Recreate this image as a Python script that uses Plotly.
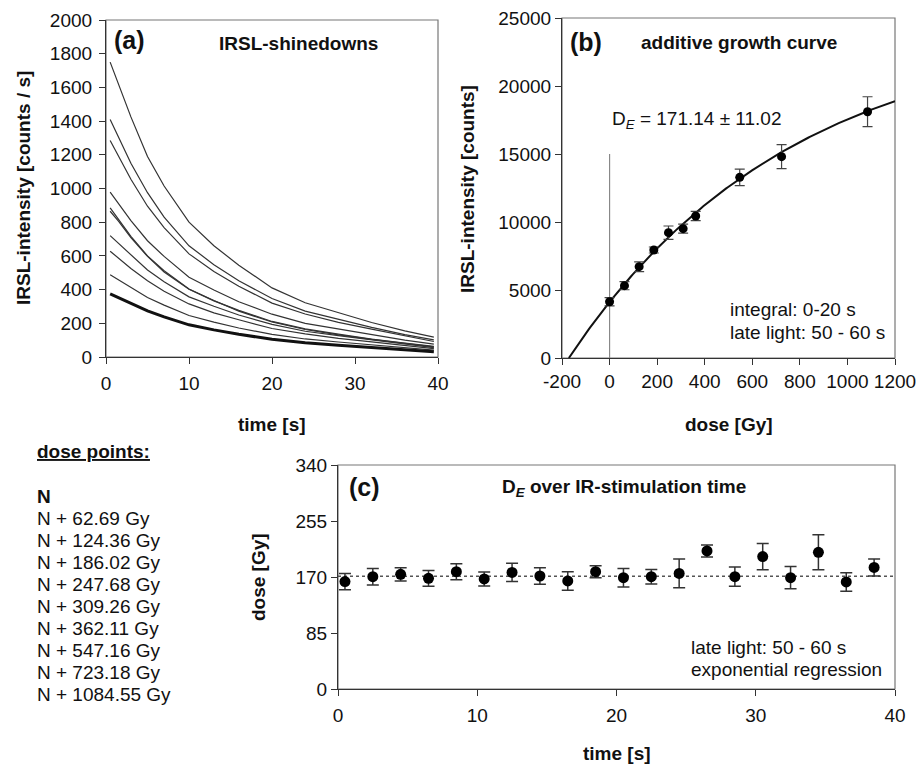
import numpy as np
import plotly.graph_objects as go

W, H = 919, 765
FONT = "Liberation Sans, Arial, sans-serif"

# ---------------- data: panel (a) IRSL shinedown curves ----------------
time_a = [0.5, 1.5, 3, 5, 7, 10, 13, 16, 20, 24, 28, 32, 36, 39.5]
curve_1 = [1750, 1615, 1425, 1190, 1015, 800, 660, 545, 410, 322, 262, 205, 155, 118]
curve_2 = [1410, 1305, 1150, 975, 830, 660, 548, 452, 347, 272, 224, 176, 133, 102]
curve_3 = [1285, 1195, 1055, 895, 768, 612, 508, 420, 320, 255, 206, 165, 126, 92]
curve_4 = [978, 912, 810, 690, 597, 473, 398, 328, 254, 200, 166, 131, 100, 76]
curve_5 = [885, 818, 716, 600, 512, 404, 335, 272, 208, 163, 131, 105, 80, 60]
curve_6 = [865, 806, 708, 597, 505, 402, 333, 277, 211, 167, 136, 106, 83, 63]
curve_7 = [720, 674, 603, 516, 447, 357, 301, 249, 194, 153, 127, 101, 78, 56]
curve_8 = [628, 588, 525, 453, 390, 315, 262, 221, 169, 137, 111, 90, 68, 50]
curve_9 = [488, 457, 412, 353, 308, 246, 207, 172, 134, 107, 89, 71, 55, 41]
curve_N = [375, 352, 317, 274, 238, 191, 161, 135, 105, 84, 69, 56, 43, 31]
thin_curves = [curve_1, curve_2, curve_3, curve_4, curve_5, curve_6, curve_7, curve_8, curve_9]

# ---------------- data: panel (b) additive growth curve ----------------
dose_b = [0, 62.69, 124.36, 186.02, 247.68, 309.26, 362.11, 547.16, 723.18, 1084.55]
signal_b = [4140, 5320, 6715, 7940, 9215, 9510, 10440, 13285, 14805, 18110]
signal_err_b = [300, 300, 360, 220, 490, 330, 340, 610, 880, 1100]
fit_a = 24500      # saturation amplitude of exponential fit
fit_b = 930        # characteristic dose of exponential fit
DE = 171.14
DE_err = 11.02
vline_top = 15000

# ---------------- data: panel (c) DE over stimulation time ----------------
time_c = [0.5, 2.5, 4.5, 6.5, 8.5, 10.5, 12.5, 14.5, 16.5, 18.5,
          20.5, 22.5, 24.5, 26.5, 28.5, 30.5, 32.5, 34.5, 36.5, 38.5]
de_c = [163, 170.5, 174, 168, 178, 167, 177, 171.5, 164, 178,
        169, 170.5, 175.5, 209.5, 170.5, 201, 169, 207.5, 162.5, 184.5]
de_err_c = [12.5, 12.5, 10, 12, 12, 10.5, 14, 12.5, 14, 9,
            14, 11, 22, 9, 14.5, 20, 17, 26.5, 14, 13]

ticks_c_y = [0, 85, 170, 255, 340]
ticks_b_x = [-200, 0, 200, 400, 600, 800, 1000, 1200]
ticks_b_x_text = ["-200", "0", "200", "400", "600", "800", "1000", "1200"]
ticks_b_y = [0, 5000, 10000, 15000, 20000, 25000]
ticks_b_y_text = ["0", "5000", "10000", "15000", "20000", "25000"]

dose_points = ["62.69", "124.36", "186.02", "247.68", "309.26",
               "362.11", "547.16", "723.18", "1084.55"]


def PX(x):
    return x / W


def PY(y):
    return 1 - y / H


fig = go.Figure()

# panel (a)
for c in thin_curves:
    fig.add_trace(go.Scatter(x=time_a, y=c, mode="lines", xaxis="x", yaxis="y",
                             line=dict(color="#333333", width=1.2), showlegend=False))
fig.add_trace(go.Scatter(x=time_a, y=curve_N, mode="lines", xaxis="x", yaxis="y",
                         line=dict(color="#111111", width=3), showlegend=False))

# panel (b)
fx = np.linspace(-DE, 1200, 200)
fy = fit_a * (1 - np.exp(-(fx + DE) / fit_b))
fig.add_trace(go.Scatter(x=[0, 0], y=[0, vline_top], mode="lines", xaxis="x2", yaxis="y2",
                         line=dict(color="#888888", width=1.2), showlegend=False))
fig.add_trace(go.Scatter(x=fx, y=fy, mode="lines", xaxis="x2", yaxis="y2",
                         line=dict(color="#111111", width=2), showlegend=False))
fig.add_trace(go.Scatter(x=dose_b, y=signal_b, mode="markers", xaxis="x2", yaxis="y2",
                         marker=dict(color="#000000", size=9),
                         error_y=dict(type="data", array=signal_err_b, color="#444444",
                                      thickness=1.2, width=5),
                         showlegend=False))

# panel (c)
fig.add_trace(go.Scatter(x=[0, 40], y=[DE, DE], mode="lines", xaxis="x3", yaxis="y3",
                         line=dict(color="#555555", width=1.5, dash="dot"), showlegend=False))
fig.add_trace(go.Scatter(x=time_c, y=de_c, mode="markers", xaxis="x3", yaxis="y3",
                         marker=dict(color="#000000", size=11),
                         error_y=dict(type="data", array=de_err_c, color="#333333",
                                      thickness=1.5, width=6),
                         showlegend=False))

axis_common = dict(showgrid=False, zeroline=False, showline=True, linecolor="#333333",
                   linewidth=1.2, ticks="outside", ticklen=6, tickcolor="#333333",
                   automargin=False,
                   tickfont=dict(family=FONT, size=19, color="#111111"))

dom_a_x = [PX(106), PX(438)]
dom_a_y = [PY(357), PY(20)]
dom_b_x = [PX(562), PX(895)]
dom_b_y = [PY(358), PY(18)]
dom_c_x = [PX(338), PX(895)]
dom_c_y = [PY(689), PY(465)]

fig.update_layout(
    width=W, height=H, autosize=False,
    margin=dict(l=0, r=0, t=0, b=0, pad=0, autoexpand=False),
    paper_bgcolor="white", plot_bgcolor="white",
    font=dict(family=FONT, size=19, color="#111111"),
    xaxis=dict(domain=dom_a_x, anchor="y", range=[0, 40], dtick=10,
               ticklabelstandoff=3, **axis_common),
    yaxis=dict(domain=dom_a_y, anchor="x", range=[0, 2000], dtick=200,
               ticklabelstandoff=3, **axis_common),
    xaxis2=dict(domain=dom_b_x, anchor="y2", range=[-200, 1200], tickvals=ticks_b_x,
                ticktext=ticks_b_x_text, **axis_common),
    yaxis2=dict(domain=dom_b_y, anchor="x2", range=[0, 25000], tickvals=ticks_b_y,
                ticktext=ticks_b_y_text, **axis_common),
    xaxis3=dict(domain=dom_c_x, anchor="y3", range=[0, 40], dtick=10,
                ticklabelstandoff=3, **axis_common),
    yaxis3=dict(domain=dom_c_y, anchor="x3", range=[0, 340], tickvals=ticks_c_y, **axis_common),
)

# boxes around panels
for xr, yr in [("x", "y"), ("x2", "y2"), ("x3", "y3")]:
    fig.add_shape(type="rect", xref=xr + " domain", yref=yr + " domain",
                  x0=0, x1=1, y0=0, y1=1, line=dict(color="#777777", width=1.2), layer="below")


def ann(text, x, y, size=19, bold=False, xanchor="center", angle=0):
    t = "<b>%s</b>" % text if bold else text
    fig.add_annotation(text=t, x=PX(x), y=PY(y), xref="paper", yref="paper",
                       xanchor=xanchor, yanchor="middle", showarrow=False,
                       textangle=angle, font=dict(family=FONT, size=size, color="#111111"))


# panel labels / titles
ann("(a)", 112, 40, size=25, bold=True, xanchor="left")
ann("IRSL-shinedowns", 298, 43, bold=True)
ann("(b)", 568, 42, size=25, bold=True, xanchor="left")
ann("additive growth curve", 739, 42, bold=True)
ann("D<sub><i>E</i></sub> = %.2f \u00b1 %.2f" % (DE, DE_err), 697, 120)
ann("integral: 0-20 s", 728, 309, xanchor="left")
ann("late light: 50 - 60 s", 728, 332, xanchor="left")
ann("(c)", 347, 487, size=25, bold=True, xanchor="left")
ann("D<sub><i>E</i></sub> over IR-stimulation time", 624, 488, bold=True)
ann("late light: 50 - 60 s", 689, 647, xanchor="left")
ann("exponential regression", 689, 669, xanchor="left")

# axis titles
ann("IRSL-intensity [counts / s]", 23, 188, bold=True, angle=-90)
ann("time [s]", 272, 424, bold=True)
ann("IRSL-intensity [counts]", 467, 189, bold=True, angle=-90)
ann("dose [Gy]", 729, 424, bold=True)
ann("dose [Gy]", 258, 577, bold=True, angle=-90)
ann("time [s]", 617, 753, bold=True)

# dose point list
ann("<u>dose points:</u>", 35, 451, bold=True, xanchor="left")
ann("N", 35, 496, bold=True, xanchor="left")
for i, d in enumerate(dose_points):
    ann("N + %s Gy" % d, 35, 518 + 22 * i, xanchor="left")

fig.write_html("out.html",
               config={"displayModeBar": False},
               post_script="document.body.style.margin='0';"
                           "document.body.style.overflow='hidden';")
